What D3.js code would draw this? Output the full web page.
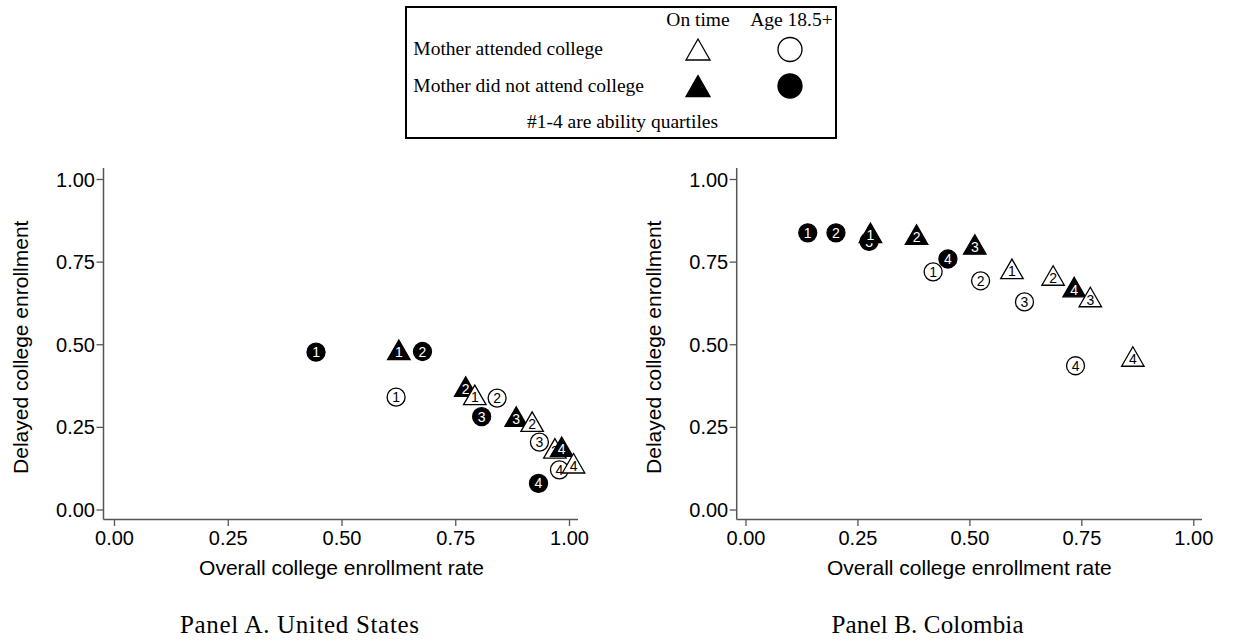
<!DOCTYPE html>
<html>
<head>
<meta charset="utf-8">
<script src="https://cdn.jsdelivr.net/npm/d3@7"></script>
<style>
  body { margin: 0; background: #fff; }
  svg { display: block; }
</style>
</head>
<body>
<svg id="chart" width="1248" height="641"></svg>
<script>
// Ability quartile labels written inside each marker
const quartileLabels = ["1", "2", "3", "4"];
const axisTicks = [0, 0.25, 0.5, 0.75, 1];

// Panel A: United States (x = overall enrollment rate, y = delayed enrollment)
const usOnTimeAttendedX    = [0.793, 0.919, 0.969, 1.010];
const usOnTimeAttendedY    = [0.347, 0.266, 0.185, 0.140];
const usOnTimeNotAttendedX = [0.626, 0.773, 0.884, 0.984];
const usOnTimeNotAttendedY = [0.483, 0.372, 0.281, 0.190];
const usDelayedAttendedX    = [0.620, 0.842, 0.935, 0.979];
const usDelayedAttendedY    = [0.340, 0.337, 0.204, 0.120];
const usDelayedNotAttendedX = [0.444, 0.678, 0.808, 0.933];
const usDelayedNotAttendedY = [0.476, 0.478, 0.281, 0.079];

// Panel B: Colombia
const coOnTimeAttendedX    = [0.595, 0.687, 0.770, 0.865];
const coOnTimeAttendedY    = [0.728, 0.708, 0.643, 0.463];
const coOnTimeNotAttendedX = [0.279, 0.382, 0.512, 0.734];
const coOnTimeNotAttendedY = [0.837, 0.832, 0.802, 0.673];
const coDelayedAttendedX    = [0.419, 0.525, 0.623, 0.737];
const coDelayedAttendedY    = [0.719, 0.692, 0.628, 0.435];
const coDelayedNotAttendedX = [0.139, 0.202, 0.276, 0.452];
const coDelayedNotAttendedY = [0.837, 0.837, 0.811, 0.758];

// Marker style of each group: on time = triangle, age 18.5+ = circle;
// hollow = mother attended college, solid = mother did not
const groups = [
  { shape: "triangle", filled: false },
  { shape: "triangle", filled: true },
  { shape: "circle", filled: false },
  { shape: "circle", filled: true }
];

const panels = [
  {
    caption: "Panel A. United States",
    xRange: [114, 569], xLine: [103.5, 578],
    captionX: 299.5, captionLen: 239, yTitleX: 28,
    series: [
      [usOnTimeAttendedX, usOnTimeAttendedY],
      [usOnTimeNotAttendedX, usOnTimeNotAttendedY],
      [usDelayedAttendedX, usDelayedAttendedY],
      [usDelayedNotAttendedX, usDelayedNotAttendedY]
    ]
  },
  {
    caption: "Panel B. Colombia",
    xRange: [745.5, 1193.3], xLine: [736.7, 1202],
    captionX: 927.5, captionLen: 192, yTitleX: 661,
    series: [
      [coOnTimeAttendedX, coOnTimeAttendedY],
      [coOnTimeNotAttendedX, coOnTimeNotAttendedY],
      [coDelayedAttendedX, coDelayedAttendedY],
      [coDelayedNotAttendedX, coDelayedNotAttendedY]
    ]
  }
];

const SANS = "'Liberation Sans', Arial, Helvetica, sans-serif";
const SERIF = "'Liberation Serif', 'Times New Roman', Times, serif";
const AXIS_COLOR = "#555";

const svg = d3.select("#chart");
const y = d3.scaleLinear().domain([0, 1]).range([509.5, 179]);
const yLine = [168, 519.5];

function trianglePath(w, h) {
  return `M0,${-h / 2}L${w / 2},${h / 2}L${-w / 2},${h / 2}Z`;
}

function drawMarker(g, shape, filled, size) {
  const fill = filled ? "#000" : "#fff";
  if (shape === "triangle") {
    g.append("path")
      .attr("d", trianglePath(size.tw, size.th))
      .attr("fill", fill).attr("stroke", "#000")
      .attr("stroke-width", 1.3).attr("stroke-linejoin", "miter");
  } else {
    g.append("circle")
      .attr("r", size.r)
      .attr("fill", fill).attr("stroke", "#000").attr("stroke-width", 1.3);
  }
}

panels.forEach(p => {
  const x = d3.scaleLinear().domain([0, 1]).range(p.xRange);
  const root = svg.append("g");

  // Axis lines
  root.append("line")
    .attr("x1", p.xLine[0]).attr("x2", p.xLine[0])
    .attr("y1", yLine[0]).attr("y2", yLine[1])
    .attr("stroke", AXIS_COLOR).attr("stroke-width", 1.5);
  root.append("line")
    .attr("x1", p.xLine[0]).attr("x2", p.xLine[1])
    .attr("y1", yLine[1]).attr("y2", yLine[1])
    .attr("stroke", AXIS_COLOR).attr("stroke-width", 1.5);

  // Y axis
  const yAxis = root.append("g")
    .attr("transform", `translate(${p.xLine[0]},0)`)
    .call(d3.axisLeft(y).tickValues(axisTicks).tickFormat(d3.format(".2f"))
      .tickSize(7).tickPadding(1.5));
  yAxis.select(".domain").remove();
  yAxis.selectAll("line").attr("stroke", AXIS_COLOR).attr("stroke-width", 1.3);
  yAxis.selectAll("text").attr("font-family", SANS).attr("font-size", 20)
    .attr("fill", "#000").attr("dy", "0.35em");

  // X axis
  const xAxis = root.append("g")
    .attr("transform", `translate(0,${yLine[1]})`)
    .call(d3.axisBottom(x).tickValues(axisTicks).tickFormat(d3.format(".2f"))
      .tickSize(6.5).tickPadding(5));
  xAxis.select(".domain").remove();
  xAxis.selectAll("line").attr("stroke", AXIS_COLOR).attr("stroke-width", 1.3);
  xAxis.selectAll("text").attr("font-family", SANS).attr("font-size", 20)
    .attr("fill", "#000");

  // Axis titles
  root.append("text")
    .attr("transform", "rotate(-90)")
    .attr("x", -(y(0) + y(1)) / 2 - 3).attr("y", p.yTitleX)
    .attr("text-anchor", "middle")
    .attr("font-family", SANS).attr("font-size", 21)
    .text("Delayed college enrollment");
  root.append("text")
    .attr("x", (p.xRange[0] + p.xRange[1]) / 2).attr("y", 575)
    .attr("text-anchor", "middle")
    .attr("font-family", SANS).attr("font-size", 21)
    .text("Overall college enrollment rate");

  // Panel caption
  root.append("text")
    .attr("x", p.captionX).attr("y", 633)
    .attr("text-anchor", "middle")
    .attr("font-family", SERIF).attr("font-size", 25)
    .attr("textLength", p.captionLen).attr("lengthAdjust", "spacing")
    .text(p.caption);

  // Points, drawn left to right so overlapping markers stack in that order
  const points = [];
  p.series.forEach(([xs, ys], gi) => {
    xs.forEach((v, i) => points.push({
      x: v, y: ys[i], label: quartileLabels[i],
      shape: groups[gi].shape, filled: groups[gi].filled
    }));
  });
  points.sort((a, b) => a.x - b.x);

  const marks = root.append("g").selectAll("g").data(points).join("g")
    .attr("transform", d => `translate(${x(d.x)},${y(d.y)})`);
  marks.each(function (d) {
    const g = d3.select(this);
    drawMarker(g, d.shape, d.filled, { tw: 22.5, th: 19.5, r: 9 });
    g.append("text")
      .attr("y", d.shape === "triangle" ? 2.5 : 0)
      .attr("dy", "0.36em")
      .attr("text-anchor", "middle")
      .attr("font-family", SANS).attr("font-size", 14)
      .attr("fill", d.filled ? "#fff" : "#000")
      .text(d.label);
  });
});

// Legend box
const legend = svg.append("g");
legend.append("rect")
  .attr("x", 406).attr("y", 7).attr("width", 430).attr("height", 131)
  .attr("fill", "#fff").attr("stroke", "#000").attr("stroke-width", 2);

const legendText = (tx, ty, str, anchor) => legend.append("text")
  .attr("x", tx).attr("y", ty).attr("text-anchor", anchor)
  .attr("font-family", SERIF).attr("font-size", 19.5).attr("fill", "#000")
  .text(str);

legendText(698, 26, "On time", "middle");
legendText(791.5, 26, "Age 18.5+", "middle");
legendText(413.3, 55, "Mother attended college", "start");
legendText(413.3, 91.5, "Mother did not attend college", "start");
legendText(622.5, 128, "#1-4 are ability quartiles", "middle");

const legendSize = { tw: 24, th: 21, r: 12 };
[[698, 49.5, groups[0]], [790, 49.5, groups[2]],
 [698, 86, groups[1]], [790, 86, groups[3]]].forEach(([lx, ly, gdef]) => {
  const g = legend.append("g").attr("transform", `translate(${lx},${ly})`);
  drawMarker(g, gdef.shape, gdef.filled, legendSize);
});
</script>
</body>
</html>
